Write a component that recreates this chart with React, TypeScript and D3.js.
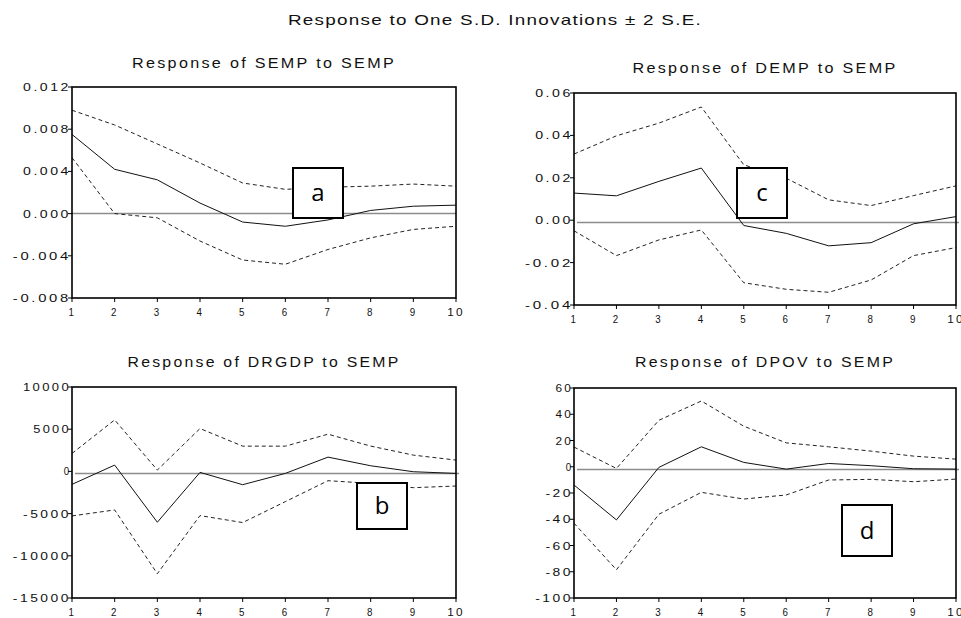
import React from "react";
import * as d3 from "d3";

// periods after the shock
const periods = [1, 2, 3, 4, 5, 6, 7, 8, 9, 10];

// Response of SEMP to SEMP
const sempResp = [0.0075, 0.0042, 0.0032, 0.001, -0.0008, -0.0012, -0.0006, 0.0003, 0.0007, 0.0008];
const sempUpper = [0.0098, 0.0084, 0.0066, 0.0048, 0.0029, 0.0023, 0.0025, 0.0026, 0.0028, 0.0026];
const sempLower = [0.0053, 0.0, -0.0004, -0.0026, -0.0044, -0.0048, -0.0034, -0.0023, -0.0015, -0.0012];

// Response of DEMP to SEMP
const dempResp = [0.0128, 0.0115, 0.0183, 0.0246, -0.0025, -0.0062, -0.0121, -0.0106, -0.0017, 0.0017];
const dempUpper = [0.0312, 0.0398, 0.0458, 0.0534, 0.0261, 0.0198, 0.0096, 0.0069, 0.0116, 0.0162];
const dempLower = [-0.005, -0.0167, -0.0093, -0.0046, -0.0295, -0.0326, -0.034, -0.0282, -0.0167, -0.0129];

// Response of DRGDP to SEMP
const drgdpResp = [-1535, 748, -6024, -118, -1575, -236, 1693, 669, -39, -236];
const drgdpUpper = [2126, 6102, 157, 5079, 2992, 2992, 4409, 3000, 1929, 1339];
const drgdpLower = [-5276, -4567, -12126, -5236, -6063, -3583, -1102, -1417, -1929, -1732];

// Response of DPOV to SEMP
const dpovResp = [-13.9, -40.5, -0.5, 15.2, 3.3, -1.8, 2.5, 0.8, -1.5, -1.8];
const dpovUpper = [15, -1.3, 35.4, 50.1, 30.9, 18.2, 15.2, 11.9, 8.1, 5.8];
const dpovLower = [-43, -78.5, -36.2, -19.5, -24.6, -21.5, -10.1, -9.6, -11.4, -9.4];

// y tick labels per panel
const sempTicks = [0.012, 0.008, 0.004, 0.0, -0.004, -0.008];
const dempTicks = [0.06, 0.04, 0.02, 0.0, -0.02, -0.04];
const drgdpTicks = [10000, 5000, 0, -5000, -10000, -15000];
const dpovTicks = [60, 40, 20, 0, -20, -40, -60, -80, -100];

// level of the grey reference line in each panel
const refLevels = [0, -0.0011, -240, -2];

const FONT = "'Liberation Sans', Arial, sans-serif";
const CHAR_W = 10.2;

type Panel = {
  title: string;
  titleWidth: number;
  titleY: number;
  x0: number;
  x1: number;
  y0: number;
  y1: number;
  resp: number[];
  upper: number[];
  lower: number[];
  ticks: number[];
  fmt: (v: number) => string;
  ref: number;
  refShift: number;
  tag: string;
  box: [number, number, number, number];
};

const hyphen = (f: (v: number) => string) => (v: number) => f(v).replace("\u2212", "-");

const panels: Panel[] = [
  {
    title: "Response of SEMP to SEMP", titleWidth: 264, titleY: 68,
    x0: 72, x1: 456, y0: 87, y1: 298,
    resp: sempResp, upper: sempUpper, lower: sempLower,
    ticks: sempTicks, fmt: hyphen(d3.format(".3f")), ref: refLevels[0], refShift: 0,
    tag: "a", box: [293, 168, 50, 50],
  },
  {
    title: "Response of DEMP to SEMP", titleWidth: 265, titleY: 73,
    x0: 574, x1: 956, y0: 93, y1: 305,
    resp: dempResp, upper: dempUpper, lower: dempLower,
    ticks: dempTicks, fmt: hyphen(d3.format(".2f")), ref: refLevels[1], refShift: 3,
    tag: "c", box: [737, 168, 50, 50],
  },
  {
    title: "Response of DRGDP to SEMP", titleWidth: 273, titleY: 367,
    x0: 72, x1: 456, y0: 387, y1: 598,
    resp: drgdpResp, upper: drgdpUpper, lower: drgdpLower,
    ticks: drgdpTicks, fmt: hyphen(d3.format("d")), ref: refLevels[2], refShift: 3,
    tag: "b", box: [357, 483, 50, 46],
  },
  {
    title: "Response of DPOV to SEMP", titleWidth: 260, titleY: 367,
    x0: 574, x1: 956, y0: 388, y1: 598,
    resp: dpovResp, upper: dpovUpper, lower: dpovLower,
    ticks: dpovTicks, fmt: hyphen(d3.format("d")), ref: refLevels[3], refShift: 3,
    tag: "d", box: [842, 505, 50, 51],
  },
];

const PanelChart = ({ p }: { p: Panel }) => {
  const x = d3.scaleLinear().domain([1, 10]).range([p.x0, p.x1]);
  const y = d3
    .scaleLinear()
    .domain([d3.min(p.ticks) as number, d3.max(p.ticks) as number])
    .range([p.y1, p.y0]);
  const line = d3
    .line<number>()
    .x((_, i) => x(periods[i]))
    .y((d) => y(d));
  const midX = (p.x0 + p.x1) / 2;

  return (
    <g>
      <text
        x={midX - p.titleWidth / 2}
        y={p.titleY}
        fontSize={14}
        fontFamily={FONT}
        letterSpacing={2}
        textLength={p.titleWidth}
        lengthAdjust="spacingAndGlyphs"
        fill="#111"
      >
        {p.title}
      </text>

      {/* grey reference line */}
      <line
        x1={x(1) + p.refShift}
        x2={x(10) + p.refShift}
        y1={y(p.ref)}
        y2={y(p.ref)}
        stroke="#8c8c8c"
        strokeWidth={1.5}
      />

      <path d={line(p.upper) || ""} fill="none" stroke="#222" strokeWidth={1} strokeDasharray="4,3" />
      <path d={line(p.lower) || ""} fill="none" stroke="#222" strokeWidth={1} strokeDasharray="4,3" />
      <path d={line(p.resp) || ""} fill="none" stroke="#111" strokeWidth={1} />

      {/* frame */}
      <rect x={p.x0} y={p.y0} width={p.x1 - p.x0} height={p.y1 - p.y0} fill="none" stroke="#000" strokeWidth={1.6} />

      {/* y ticks */}
      {p.ticks.map((t) => {
        const label = p.fmt(t);
        const w = label.length * CHAR_W - 3;
        return (
          <g key={t}>
            <line x1={p.x0 - 4} x2={p.x0} y1={y(t)} y2={y(t)} stroke="#000" strokeWidth={1} />
            <text
              x={p.x0 - 1 - w}
              y={y(t) + 4}
              fontSize={11}
              fontFamily={FONT}
              letterSpacing={2}
              textLength={w}
              lengthAdjust="spacingAndGlyphs"
              fill="#111"
            >
              {label}
            </text>
          </g>
        );
      })}

      {/* x ticks */}
      {periods.map((d) => {
        const label = String(d);
        const w = label.length * CHAR_W - 3;
        return (
          <g key={d}>
            <line x1={x(d)} x2={x(d)} y1={p.y1} y2={p.y1 + 4} stroke="#000" strokeWidth={1} />
            <text
              x={x(d) - w / 2}
              y={p.y1 + 18}
              fontSize={11}
              fontFamily={FONT}
              letterSpacing={2}
              textLength={w}
              lengthAdjust="spacingAndGlyphs"
              fill="#111"
            >
              {label}
            </text>
          </g>
        );
      })}

      {/* panel tag box */}
      <rect x={p.box[0]} y={p.box[1]} width={p.box[2]} height={p.box[3]} fill="#fff" stroke="#000" strokeWidth={2} />
      <text
        x={p.box[0] + p.box[2] / 2}
        y={p.box[1] + p.box[3] / 2 + 8}
        textAnchor="middle"
        fontSize={24}
        fontFamily="'Open Sans', 'Liberation Sans', sans-serif"
        fill="#000"
      >
        {p.tag}
      </text>
    </g>
  );
};

export default function App() {
  return (
    <svg
      width={961}
      height={618}
      style={{ position: "absolute", left: 0, top: 0, background: "#fff" }}
    >
      <rect x={0} y={0} width={961} height={618} fill="#fff" />
      <text
        x={288}
        y={25}
        fontSize={15}
        fontFamily={FONT}
        letterSpacing={1}
        textLength={414}
        lengthAdjust="spacingAndGlyphs"
        fill="#111"
      >
        Response to One S.D. Innovations ± 2 S.E.
      </text>
      {panels.map((p) => (
        <PanelChart key={p.title} p={p} />
      ))}
    </svg>
  );
}
